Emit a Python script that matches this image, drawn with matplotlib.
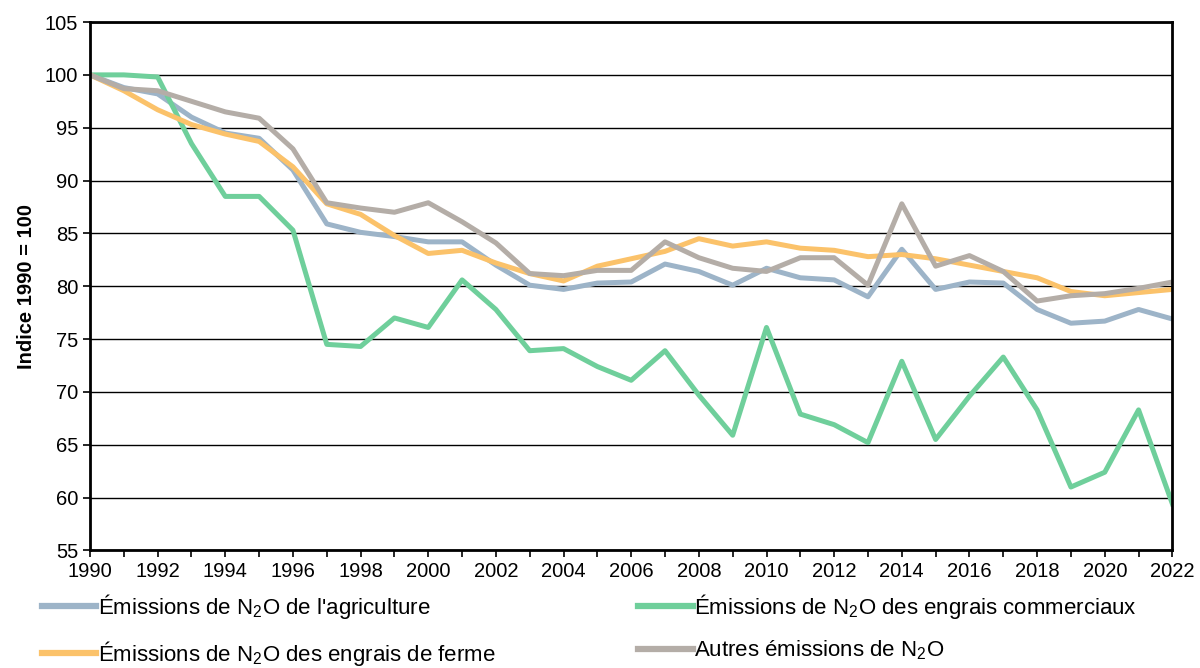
import matplotlib
matplotlib.use("Agg")
import matplotlib.pyplot as plt
import numpy as np

plt.rcParams["font.family"] = ["Liberation Sans", "DejaVu Sans"]
plt.rcParams["mathtext.fontset"] = "custom"
plt.rcParams["mathtext.rm"] = "Liberation Sans"
plt.rcParams["mathtext.it"] = "Liberation Sans:italic"
plt.rcParams["mathtext.default"] = "regular"

years = np.arange(1990, 2023)

agriculture = [100, 98.8, 98.2, 96.0, 94.5, 94.0, 91.0, 85.9, 85.1, 84.7, 84.2,
               84.2, 82.0, 80.1, 79.7, 80.3, 80.4, 82.1, 81.4, 80.1, 81.7,
               80.8, 80.6, 79.0, 83.5, 79.7, 80.4, 80.3, 77.8, 76.5, 76.7,
               77.8, 76.9]
commerciaux = [100, 100, 99.8, 93.5, 88.5, 88.5, 85.3, 74.5, 74.3, 77.0, 76.1,
               80.6, 77.8, 73.9, 74.1, 72.4, 71.1, 73.9, 69.7, 65.9, 76.1,
               67.9, 66.9, 65.2, 72.9, 65.5, 69.6, 73.3, 68.3, 61.0, 62.4,
               68.3, 59.4]
ferme = [100, 98.5, 96.7, 95.3, 94.4, 93.7, 91.3, 87.8, 86.8, 84.8, 83.1,
         83.4, 82.2, 81.2, 80.5, 81.9, 82.6, 83.3, 84.5, 83.8, 84.2,
         83.6, 83.4, 82.8, 83.0, 82.6, 82.0, 81.4, 80.8, 79.5, 79.1,
         79.4, 79.7]
autres = [100, 98.7, 98.5, 97.5, 96.5, 95.9, 93.0, 87.9, 87.4, 87.0, 87.9,
          86.1, 84.1, 81.2, 81.0, 81.5, 81.5, 84.2, 82.7, 81.7, 81.4,
          82.7, 82.7, 80.1, 87.8, 81.9, 82.9, 81.4, 78.6, 79.1, 79.3,
          79.8, 80.4]

labels = {
    "agri": "Émissions de N$_2$O de l'agriculture",
    "comm": "Émissions de N$_2$O des engrais commerciaux",
    "ferme": "Émissions de N$_2$O des engrais de ferme",
    "autres": "Autres émissions de N$_2$O",
}
colors = {"agri": "#9db4c8", "comm": "#6fcf9b", "ferme": "#fbc26a", "autres": "#b4ada7"}

fig = plt.figure(figsize=(12, 6.68), dpi=100)
ax = fig.add_axes([0.075, 0.176, 0.902, 0.791])

lw = 3.6
h_agri, = ax.plot(years, agriculture, color=colors["agri"], lw=lw, label=labels["agri"])
h_comm, = ax.plot(years, commerciaux, color=colors["comm"], lw=lw, label=labels["comm"])
h_ferme, = ax.plot(years, ferme, color=colors["ferme"], lw=lw, label=labels["ferme"])
h_autres, = ax.plot(years, autres, color=colors["autres"], lw=lw, label=labels["autres"])

ax.set_xlim(1990, 2022)
ax.set_ylim(55, 105)
ax.set_xticks(np.arange(1990, 2023, 2))
ax.set_xticks(np.arange(1990, 2023, 1), minor=True)
ax.set_yticks(np.arange(55, 106, 5))
ax.yaxis.grid(True, color="black", lw=1)
ax.set_axisbelow(True)
for s in ax.spines.values():
    s.set_linewidth(2)
    s.set_color("black")
ax.tick_params(axis="both", which="major", labelsize=14.5, length=5, width=1.2, direction="out")
ax.tick_params(axis="x", which="minor", length=5, width=1.2)
ax.set_ylabel("Indice 1990 = 100", fontsize=14.5, fontweight="bold", labelpad=6)

leg_kw = dict(frameon=False, fontsize=16, handlelength=2.45, handletextpad=0.05,
              labelspacing=0.8, borderaxespad=0, borderpad=0)
leg1 = fig.legend([h_agri, h_ferme], [labels["agri"], labels["ferme"]],
                  loc="upper left", bbox_to_anchor=(0.035, 0.114), **leg_kw)
leg2 = fig.legend([h_comm, h_autres], [labels["comm"], labels["autres"]],
                  loc="upper left", bbox_to_anchor=(0.532, 0.114), **leg_kw)
for leg in (leg1, leg2):
    for line in leg.get_lines():
        line.set_linewidth(4.5)

fig.savefig("out.png", dpi=100)
